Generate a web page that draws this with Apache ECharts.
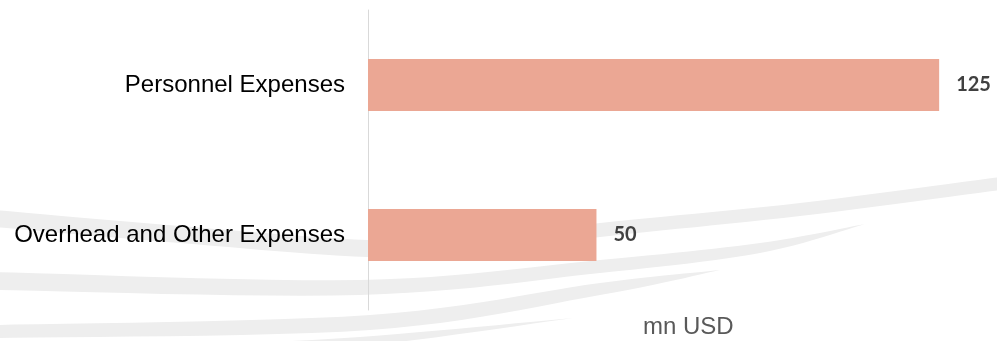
<!DOCTYPE html>
<html>
<head>
<meta charset="utf-8">
<script src="https://cdn.jsdelivr.net/npm/echarts@6/dist/echarts.min.js"></script>
<style>
html,body{margin:0;padding:0;background:#fff;}
#chart{width:997px;height:341px;}
</style>
</head>
<body>
<div id="chart"></div>
<script>
var categories = ['Personnel Expenses', 'Overhead and Other Expenses'];
var values = [125, 50];
var unitLabel = 'mn USD';

var chart = echarts.init(document.getElementById('chart'), null, {renderer: 'canvas'});

// decorative background swooshes (watermark), built from top/bottom edge guide points
function catmull(pts) {
  var out = [], n = 12;
  for (var i = 0; i < pts.length - 1; i++) {
    var p0 = pts[i - 1] || pts[i], p1 = pts[i], p2 = pts[i + 1], p3 = pts[i + 2] || pts[i + 1];
    for (var k = 0; k < n; k++) {
      var t = k / n, t2 = t * t, t3 = t2 * t;
      out.push([0, 1].map(function (d) {
        return 0.5 * ((2 * p1[d]) + (-p0[d] + p2[d]) * t + (2 * p0[d] - 5 * p1[d] + 4 * p2[d] - p3[d]) * t2 + (-p0[d] + 3 * p1[d] - 3 * p2[d] + p3[d]) * t3);
      }));
    }
  }
  out.push(pts[pts.length - 1]);
  return out;
}
function band(top, bottom) {
  return catmull(top).concat(catmull(bottom).reverse());
}
var swooshFill = '#eeeeee';
var swooshes = [
  band([[-5,210],[180,226],[367,240],[480,238],[600,223],[800,203],[1000,177]],
       [[-5,227],[180,243],[367,257],[480,253],[600,237],[800,216],[1000,190]]),
  band([[-5,272],[360,280],[600,260],[760,243],[865,224]],
       [[-5,290],[360,295],[600,273],[760,253],[865,224]]),
  band([[-5,325],[370,315],[600,283],[720,270]],
       [[-5,338],[370,330],[600,295],[720,270]]),
  band([[200,345],[360,337],[573,318]],
       [[200,350],[360,346],[573,318]])
];
var graphics = swooshes.map(function (pts) {
  return {type: 'polygon', z: -10, silent: true, shape: {points: pts}, style: {fill: swooshFill}};
});

var option = {
  backgroundColor: '#ffffff',
  animation: false,
  title: {
    text: unitLabel,
    left: 643,
    top: 315,
    padding: 0,
    textStyle: {fontFamily: 'Liberation Sans', fontSize: 24, fontWeight: 'normal', color: '#595959'}
  },
  graphic: graphics,
  grid: {left: 368, right: 35, top: 10, bottom: 31, containLabel: false},
  xAxis: {
    type: 'value', min: 0, max: 130, show: false
  },
  yAxis: {
    type: 'category',
    data: categories,
    inverse: true,
    axisLine: {show: true, lineStyle: {color: '#d9d9d9', width: 1}},
    axisTick: {show: false},
    splitLine: {show: false},
    axisLabel: {fontFamily: 'Liberation Sans', fontSize: 24, color: '#000000', margin: 23}
  },
  series: [{
    type: 'bar',
    data: values,
    barWidth: 52,
    z: 5,
    itemStyle: {color: '#eba794'},
    label: {
      show: true,
      position: 'right',
      distance: 17,
      fontFamily: 'Lato',
      fontWeight: 'bold',
      fontSize: 20,
      color: '#404040'
    }
  }]
};
chart.setOption(option);
</script>
</body>
</html>
